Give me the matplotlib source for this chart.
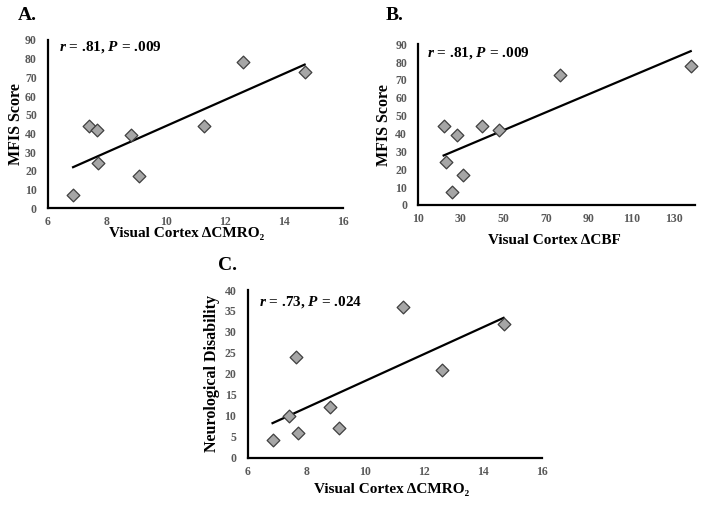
import numpy as np
import matplotlib
matplotlib.use("Agg")
import matplotlib.pyplot as plt

plt.rcParams['font.family'] = ['Liberation Serif', 'DejaVu Serif']
plt.rcParams['mathtext.fontset'] = 'custom'
plt.rcParams['mathtext.rm'] = 'Liberation Serif:bold'
plt.rcParams['mathtext.bf'] = 'Liberation Serif:bold'
plt.rcParams['mathtext.it'] = 'Liberation Serif:bold:italic'

# Data
cmro2 = [6.85, 7.4, 7.65, 7.7, 8.8, 9.1, 11.3, 12.6, 14.7]
mfis_a = [7, 44, 42, 24, 39, 17, 44, 78, 73]
cbf = [22.9, 21.9, 26.0, 28.3, 31.0, 40.0, 48.0, 76.5, 138.0]
mfis_b = [24, 44, 7, 39, 17, 44, 42, 73, 78]
disab = [4.2, 10, 24, 6, 12.2, 7, 36, 21, 32]

panels = [
    dict(x=cmro2, y=mfis_a, rect=[0.0682, 0.5881, 0.4190, 0.3327], xlim=(6, 16), xt=[6, 8, 10, 12, 14, 16],
         ylim=(0, 90), yt=list(range(0, 100, 10)), xlabel='Visual Cortex ΔCMRO₂', ylabel='MFIS Score',
         stat=r'$r$ = .81, $P$ = .009', letter='A.', letter_xy=(18, 15), stat_xy=(59, 47),
         ylab_x=16, xlab_x=187, xlab_y=233),
    dict(x=cbf, y=mfis_b, rect=[0.5942, 0.5941, 0.3930, 0.3182], xlim=(10, 140), xt=[10, 30, 50, 70, 90, 110, 130],
         ylim=(0, 90), yt=list(range(0, 100, 10)), xlabel='Visual Cortex ΔCBF', ylabel='MFIS Score',
         stat=r'$r$ = .81, $P$ = .009', letter='B.', letter_xy=(386, 15), stat_xy=(427, 53),
         ylab_x=384, xlab_x=554, xlab_y=240),
    dict(x=cmro2, y=disab, rect=[0.3516, 0.0937, 0.4180, 0.3320], xlim=(6, 16), xt=[6, 8, 10, 12, 14, 16],
         ylim=(0, 40), yt=list(range(0, 45, 5)), xlabel='Visual Cortex ΔCMRO₂', ylabel='Neurological Disability',
         stat=r'$r$ = .73, $P$ = .024', letter='C.', letter_xy=(218, 265), stat_xy=(259, 302),
         ylab_x=212, xlab_x=392, xlab_y=490),
]

W, H = 704, 505
fig = plt.figure(figsize=(W / 100, H / 100), dpi=100)
tick_color = '#595959'

for p in panels:
    ax = fig.add_axes(p['rect'])
    x = np.array(p['x']); y = np.array(p['y'])
    k, b = np.polyfit(x, y, 1)
    xs = np.array([x.min(), x.max()])
    ax.plot(xs, k * xs + b, color='black', lw=1.6, zorder=2, clip_on=False)
    ax.scatter(x, y, marker='D', s=42, facecolor='#a6a6a6', edgecolor='#3f3f3f', linewidths=0.9,
               zorder=3, clip_on=False)
    ax.set_xlim(*p['xlim']); ax.set_ylim(*p['ylim'])
    ax.set_xticks(p['xt']); ax.set_yticks(p['yt'])
    for s in ['top', 'right']:
        ax.spines[s].set_visible(False)
    for s in ['left', 'bottom']:
        ax.spines[s].set_linewidth(1.6)
        ax.spines[s].set_color('black')
    ax.tick_params(length=0, labelsize=8.5, labelcolor=tick_color)
    ax.tick_params(axis='y', pad=8)
    ax.tick_params(axis='x', pad=6)
    for lab in ax.get_xticklabels() + ax.get_yticklabels():
        lab.set_fontweight('bold')
    ax.patch.set_alpha(0)
    fig.text(p['letter_xy'][0] / W, 1 - p['letter_xy'][1] / H, p['letter'], fontsize=14, fontweight='bold',
             ha='left', va='center')
    fig.text(p['stat_xy'][0] / W, 1 - p['stat_xy'][1] / H, p['stat'], fontsize=11, fontweight='bold',
             ha='left', va='center')
    l, bt, w, h = p['rect']
    fig.text(p['xlab_x'] / W, 1 - p['xlab_y'] / H, p['xlabel'], fontsize=11,
             fontweight='bold', ha='center', va='center')
    fig.text(p['ylab_x'] / W, bt + h / 2, p['ylabel'], fontsize=11.5, fontweight='bold',
             ha='center', va='center', rotation=90)

fig.savefig('out.png', dpi=100)
